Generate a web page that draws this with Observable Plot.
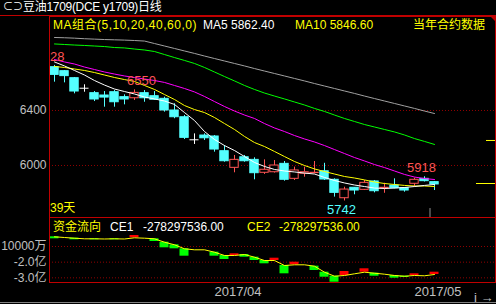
<!DOCTYPE html>
<html><head><meta charset="utf-8">
<script src="https://cdn.jsdelivr.net/npm/d3@7"></script>
<script src="https://cdn.jsdelivr.net/npm/@observablehq/plot@0.6"></script>
<style>
html,body{margin:0;padding:0;background:#000;width:496px;height:304px;overflow:hidden;}
#wrap{position:relative;width:496px;height:304px;background:#000;font-family:"Liberation Sans","Noto Sans CJK SC",sans-serif;}
.t{position:absolute;white-space:nowrap;font-size:12px;line-height:12px;}
.abs{position:absolute;}
svg{display:block;}
</style></head>
<body><div id="wrap">
<div class="t" style="left:3px;top:1px;color:#fff;font-size:10px;">⊂⊃</div>
<div class="t" style="left:23px;top:1px;color:#fff;letter-spacing:-0.3px;">豆油1709(DCE y1709)日线</div>
<div class="abs" style="left:0;top:15px;width:496px;height:1px;background:#c00000;"></div>
<div class="abs" style="left:0;top:302px;width:496px;height:1px;background:#808080;"></div>
<div id="main" class="abs" style="left:0;top:0;"></div>
<div id="low" class="abs" style="left:0;top:216px;"></div>
<div class="t" style="left:53px;top:19px;color:#ffff00;letter-spacing:0.5px;">MA组合(5,10,20,40,60,0)</div>
<div class="t" style="left:203px;top:19px;color:#fff;">MA5 5862.40</div>
<div class="t" style="left:295px;top:19px;color:#ffff00;">MA10 5846.60</div>
<div class="t" style="left:413px;top:19px;color:#ffff00;">当年合约数据</div>
<div class="abs" style="left:490px;top:16px;width:0;height:0;border-top:6px solid #c00000;border-left:6px solid transparent;"></div>
<div class="t" style="left:50px;top:202px;color:#ffff00;">39天</div>
<div class="t" style="left:53px;top:221px;color:#ffff00;">资金流向</div>
<div class="t" style="left:110px;top:221px;color:#fff;">CE1</div>
<div class="t" style="left:143px;top:221px;color:#fff;">-278297536.00</div>
<div class="t" style="left:247px;top:221px;color:#ffff00;">CE2</div>
<div class="t" style="left:279px;top:221px;color:#ffff00;">-278297536.00</div>
</div>
<script>
// ---- candle data (daily, 39 days) ----
const open  = [6715,6686,6635,6562,6526,6509,6533,6497,6489,6526,6504,6485,6400,6351,6187,6218,6211,6104,5983,6060,6041,5947,5951,6012,5903,5940,5945,5958,5896,5762,5838,5823,5884,5833,5854,5835,5867,5903,5879];
const high  = [6728,6691,6640,6587,6538,6538,6545,6514,6550,6545,6538,6497,6449,6364,6230,6230,6218,6145,6073,6073,6056,6041,6036,6029,5988,5988,6029,6016,5903,5842,5840,5891,5891,5871,5903,5840,5908,5918,5884];
const low   = [6606,6601,6521,6533,6465,6424,6424,6441,6473,6460,6473,6388,6340,6189,6153,6182,6097,6024,5947,6024,5896,5935,5945,5886,5891,5915,5940,5891,5770,5742,5787,5818,5801,5798,5830,5806,5842,5880,5818];
const close = [6659,6650,6538,6562,6480,6494,6460,6480,6528,6489,6478,6400,6351,6201,6187,6198,6116,6031,6041,6031,5944,5969,6000,5896,5964,5951,5947,5898,5801,5825,5818,5874,5813,5838,5835,5818,5896,5886,5862];
// ---- moving averages ----
const ma5  = [6753,6724,6691,6658,6618,6585,6556,6538,6520,6498,6484,6469,6444,6385,6327,6247,6189,6145,6109,6065,6022,5993,5971,5960,5953,5945,5938,5913,5891,5873,5858,5847,5836,5833,5836,5840,5847,5855,5862];
const ma10 = [6720,6713,6702,6691,6676,6658,6640,6625,6611,6582,6553,6516,6480,6436,6407,6385,6349,6305,6262,6211,6167,6138,6102,6065,6029,6000,5975,5956,5938,5920,5909,5895,5880,5869,5862,5855,5851,5851,5847];
const ma20 = [6771,6753,6738,6716,6698,6680,6665,6651,6640,6629,6618,6604,6582,6560,6535,6502,6465,6429,6396,6367,6342,6305,6273,6247,6218,6193,6171,6145,6116,6087,6058,6033,6007,5985,5960,5935,5916,5905,5898];
const ma40 = [6884,6880,6876,6873,6869,6865,6858,6855,6847,6840,6829,6807,6785,6764,6742,6713,6680,6647,6615,6582,6553,6527,6505,6484,6462,6440,6415,6393,6367,6342,6320,6298,6280,6262,6244,6222,6196,6175,6153];
const ma60 = [6931,6929,6926,6922,6919,6916,6914,6912,6909,6905,6887,6869,6851,6833,6815,6796,6778,6760,6742,6724,6705,6687,6669,6651,6633,6615,6596,6578,6560,6542,6524,6505,6487,6469,6451,6433,6415,6396,6378];
// ---- fund flow (亿): CE1 (stick end) and CE2 (yellow line) ----
const ce1 = [-0.509,-0.426,-0.572,-0.509,-0.572,-0.521,-0.572,-0.521,-0.298,-0.470,-0.681,-1.083,-1.147,-1.619,-1.211,-1.211,-1.619,-1.830,-1.466,-1.683,-1.894,-2.104,-1.747,-2.743,-2.002,-2.168,-2.532,-2.960,-3.279,-2.596,-2.743,-2.423,-2.896,-2.768,-3.023,-2.979,-2.743,-2.870,-2.640];
const ce2 = [-0.381,-0.426,-0.470,-0.509,-0.509,-0.521,-0.509,-0.521,-0.445,-0.470,-0.509,-0.726,-0.891,-1.147,-1.211,-1.211,-1.364,-1.574,-1.574,-1.511,-1.683,-1.894,-1.894,-2.213,-2.168,-2.168,-2.257,-2.640,-2.896,-2.851,-2.743,-2.640,-2.704,-2.768,-2.851,-2.896,-2.851,-2.870,-2.787];
// ---- ticks & labels ----
const priceTicks = [6000, 6400];
const flowTicks = [-1, -2, -3];
const flowTickLabels = ["10000万", "-2.0亿", "-3.0亿"];
const dateTicks = [16, 36];
const dateLabels = ["2017/04", "2017/05"];
const highLabels = [
  {i: -0.45, p: 6728, text: "6728"},
  {i: 8.7,  p: 6550, text: "6550"},
  {i: 36.7, p: 5918, text: "5918"}
];
const lowLabels = [{i: 28.7, p: 5742, text: "5742"}];
const sideMarks = [{p: 6182, from: 43.2}, {p: 5869, from: 42.2}];
const nowMarker = [{i: 37.55, top: 5687}];

const RED = "#ff5454", CYAN = "#54ffff", FONT = "Liberation Sans, Noto Sans CJK SC, sans-serif";
const candles = open.map((o, i) => ({i, o, h: high[i], l: low[i], c: close[i],
  kind: close[i] > o ? "up" : close[i] < o ? "down" : "flat"}));
const col = d => d.kind === "up" ? RED : d.kind === "down" ? CYAN : "#ffffff";
const mas = [
  {v: ma60, color: "#a0a0a0"}, {v: ma40, color: "#00ff00"}, {v: ma20, color: "#ff00ff"},
  {v: ma10, color: "#ffff00"}, {v: ma5, color: "#ffffff"}
];
const XD = [-0.5, 44.1];

const mainPlot = Plot.plot({
  width: 496, height: 218, marginLeft: 49, marginRight: 1, marginTop: 16, marginBottom: 1,
  style: {background: "transparent", fontFamily: FONT, overflow: "visible"},
  x: {domain: XD, axis: null},
  y: {domain: [5621.8, 7083.6], axis: null},
  marks: [
    Plot.ruleY(priceTicks, {stroke: "#900000", strokeDasharray: "1,2"}),
    Plot.axisY(priceTicks, {anchor: "left", tickSize: 0, tickPadding: 3, fill: "#c0c0c0", fontSize: 12, tickFormat: d => String(d)}),
    Plot.ruleY(sideMarks, {y: "p", x1: "from", x2: XD[1], stroke: "#ffff00"}),
    Plot.ruleX(nowMarker, {x: "i", y1: "top", y2: 5621.8, stroke: "#909090"}),
    Plot.ruleX(candles, {x: "i", y1: "l", y2: "h", stroke: col}),
    Plot.rect(candles.filter(d => d.kind !== "flat"), {
      x1: d => d.i - 0.42, x2: d => d.i + 0.42,
      y1: d => Math.min(d.o, d.c), y2: d => Math.max(d.o, d.c),
      fill: d => d.kind === "up" ? "#000" : CYAN, stroke: col, strokeWidth: 1}),
    Plot.ruleY(candles.filter(d => d.kind === "flat"), {y: "o", x1: d => d.i - 0.45, x2: d => d.i + 0.45, stroke: "#fff"}),
    ...mas.map(m => Plot.line(m.v.map((v, i) => ({i, v})), {x: "i", y: "v", stroke: m.color, strokeWidth: 1})),
    Plot.text(highLabels, {x: "i", y: "p", text: "text", clip: true, fontSize: 13, fill: RED, dy: -9}),
    Plot.text(lowLabels, {x: "i", y: "p", text: "text", clip: true, fontSize: 13, fill: CYAN, dy: 9}),
    Plot.frame({stroke: "#c00000"})
  ]
});
document.getElementById("main").appendChild(mainPlot);

const flowRows = ce1.map((v, i) => ({i, ce1: v, ce2: ce2[i]}));
const lowPlot = Plot.plot({
  width: 496, height: 88, marginLeft: 49, marginRight: 1, marginTop: 1, marginBottom: 22,
  style: {background: "transparent", fontFamily: FONT, overflow: "visible"},
  x: {domain: XD, axis: null},
  y: {domain: [-3.298, 0.851], axis: null},
  marks: [
    Plot.ruleY(flowTicks, {stroke: "#900000", strokeDasharray: "1,2"}),
    Plot.axisY(flowTicks, {anchor: "left", tickSize: 0, tickPadding: 3, fill: "#c0c0c0", fontSize: 12,
      tickFormat: d => flowTickLabels[flowTicks.indexOf(d)]}),
    Plot.axisX(dateTicks, {anchor: "bottom", tickSize: 0, tickPadding: 4, fill: "#c0c0c0", fontSize: 13,
      textAnchor: "start", tickFormat: d => dateLabels[dateTicks.indexOf(d)]}),
    Plot.rect(flowRows.filter(d => d.ce1 !== d.ce2), {x1: d => d.i - 0.45, x2: d => d.i + 0.45, y1: "ce2", y2: "ce1",
      fill: d => d.ce1 > d.ce2 ? "#ff0000" : "#00ff00"}),
    Plot.line(flowRows, {x: "i", y: "ce2", stroke: "#ffff00", strokeWidth: 1}),
    Plot.frame({stroke: "#c00000"})
  ]
});
document.getElementById("low").appendChild(lowPlot);
</script>
</body></html>
